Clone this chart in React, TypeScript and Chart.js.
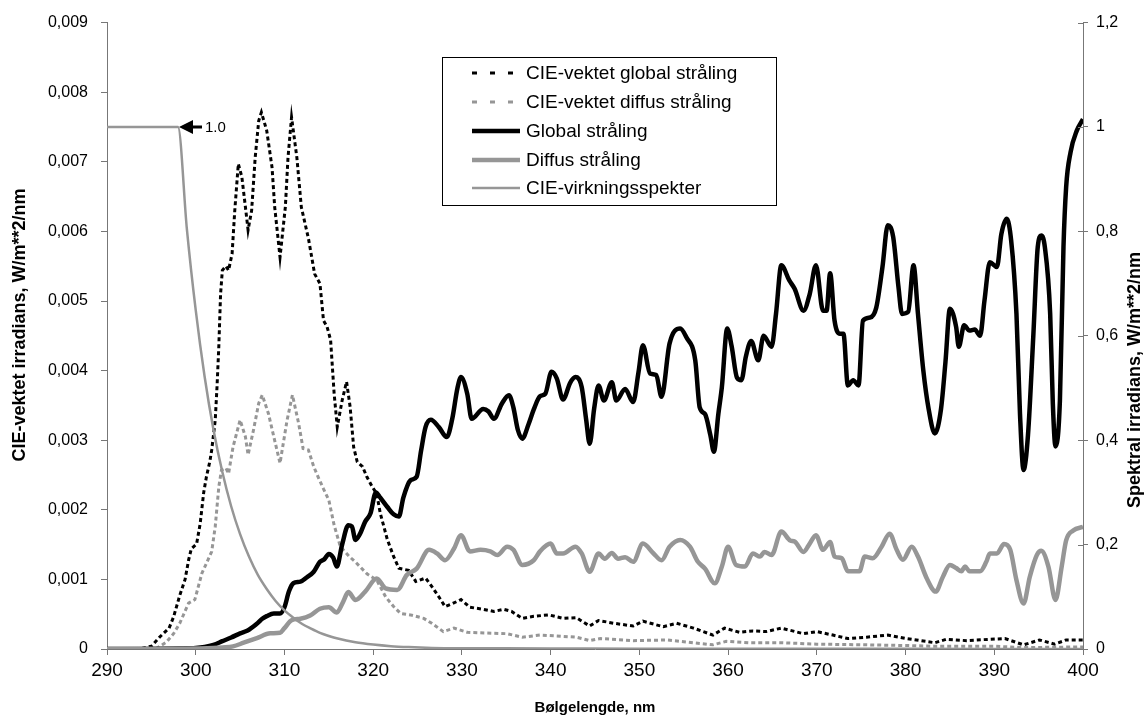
import React, { useEffect, useRef } from "react";
import { Chart, registerables } from "chart.js";

Chart.register(...registerables);

// ---------- data ----------
const xTicks = [290, 300, 310, 320, 330, 340, 350, 360, 370, 380, 390, 400];
const leftTicks = [0, 0.001, 0.002, 0.003, 0.004, 0.005, 0.006, 0.007, 0.008, 0.009];
const rightTicks = [0, 0.2, 0.4, 0.6, 0.8, 1, 1.2];

const seriesNames = [
  "CIE-vektet global stråling",
  "CIE-vektet diffus stråling",
  "Global stråling",
  "Diffus stråling",
  "CIE-virkningsspekter",
];

// Global stråling (right axis, W/m**2/nm)
const globalNm = [
  290, 294, 296, 298, 300, 301, 302, 303, 304, 305, 305.5, 306, 306.5, 307, 307.5, 308, 308.8, 309.5, 310,
  310.5, 311, 311.8, 312.5, 313.3, 314, 314.5, 315, 315.5, 315.9, 316.5, 317.2, 317.6, 318, 318.5, 319.1,
  319.7, 320.3, 320.8, 321.6, 322.3, 322.9, 323.4, 324.2, 324.9, 325.4, 325.9, 326.5, 327.4, 328.3, 328.9,
  329.5, 329.9, 330.6, 331.1, 332.4, 333, 333.6, 334.5, 335.3, 335.8, 336.3, 336.8, 337.5, 338.1, 338.8,
  339.4, 340.1, 340.7, 341.4, 342.2, 342.8, 343.5, 344, 344.4, 344.9, 345.4, 346, 346.9, 347.4, 348.4,
  349.3, 349.9, 350.4, 351.2, 351.9, 352.5, 353.4, 354.6, 355.3, 356.3, 356.8, 357.4, 358, 358.4, 358.9,
  359.3, 359.9, 360.4, 361, 361.5, 362, 362.6, 363.4, 364, 364.9, 365.4, 366, 366.9, 367.5, 368.5, 369.2,
  369.9, 370.7, 371.1, 371.5, 372, 372.6, 373, 373.5, 374.1, 374.7, 375.2, 376, 376.7, 377.4, 378, 378.6,
  379.2, 379.6, 380.3, 380.9, 381.4, 382, 382.6, 383.3, 384, 384.5, 385, 385.7, 386, 386.6, 387.2, 387.8,
  388.4, 388.9, 389.5, 390.3, 390.8, 391.4, 391.9, 392.5, 392.9, 393.3, 393.8, 394.4, 394.9, 395.3, 395.7,
  396.3, 396.6, 396.9, 397.4, 397.8, 398.1, 398.6, 399.3, 400,
];
const globalVal = [
  0, 0, 0.0003, 0.001, 0.002, 0.004, 0.008, 0.015, 0.022, 0.03, 0.033, 0.037, 0.043, 0.05, 0.058, 0.063,
  0.068, 0.068, 0.08, 0.11, 0.126, 0.129, 0.137, 0.148, 0.167, 0.172, 0.182, 0.175, 0.158, 0.2, 0.237, 0.235,
  0.209, 0.22, 0.244, 0.26, 0.3, 0.29, 0.272, 0.258, 0.254, 0.29, 0.323, 0.33, 0.38, 0.425, 0.439, 0.425,
  0.406, 0.44, 0.5, 0.521, 0.489, 0.441, 0.46, 0.455, 0.441, 0.47, 0.486, 0.463, 0.42, 0.403, 0.43, 0.459,
  0.484, 0.489, 0.531, 0.518, 0.478, 0.51, 0.521, 0.502, 0.44, 0.393, 0.46, 0.505, 0.476, 0.511, 0.476,
  0.498, 0.473, 0.53, 0.582, 0.528, 0.525, 0.483, 0.585, 0.614, 0.597, 0.553, 0.463, 0.45, 0.41, 0.378,
  0.45, 0.502, 0.614, 0.58, 0.52, 0.515, 0.56, 0.59, 0.553, 0.6, 0.579, 0.642, 0.735, 0.706, 0.69, 0.648,
  0.68, 0.735, 0.648, 0.648, 0.72, 0.629, 0.604, 0.604, 0.505, 0.515, 0.505, 0.629, 0.635, 0.654, 0.732,
  0.812, 0.79, 0.694, 0.642, 0.646, 0.735, 0.642, 0.534, 0.46, 0.413, 0.46, 0.55, 0.652, 0.617, 0.579, 0.62,
  0.61, 0.612, 0.6, 0.668, 0.741, 0.732, 0.795, 0.824, 0.783, 0.642, 0.45, 0.343, 0.41, 0.6, 0.77, 0.792,
  0.77, 0.642, 0.47, 0.388, 0.477, 0.77, 0.885, 0.952, 0.993, 1.015,
];

// Diffus stråling (right axis)
const diffusNm = [
  290, 298, 300, 302, 303, 304.2, 305.4, 306.9, 308.4, 309.5, 310, 310.8, 311.8, 312.9, 314, 315, 315.9,
  316.6, 317.2, 318, 319.1, 320.4, 321.4, 322.7, 323.8, 324.9, 326.3, 327.2, 328.1, 329.1, 329.9, 330.9,
  332.1, 333.2, 334, 335.1, 335.8, 336.8, 338.1, 338.8, 340, 340.7, 341.4, 342.8, 343.5, 344.4, 345.4,
  346.1, 346.9, 347.6, 348.4, 349.3, 350.4, 351.6, 352.5, 353.4, 354.6, 355.7, 356.6, 357.4, 358.5, 359.3,
  360, 360.9, 361.9, 362.8, 363.6, 364.1, 364.9, 366, 367, 367.5, 368.5, 369.2, 369.9, 370.7, 371.5, 372,
  372.8, 373.5, 374.8, 375.4, 376.3, 377.3, 378.2, 379, 379.7, 380.7, 381.4, 382.4, 383.4, 384.2, 385,
  385.7, 386.3, 386.7, 387.2, 388.4, 389.1, 389.5, 390.3, 391.1, 391.8, 392.5, 393.3, 394, 394.8, 395.3,
  396.1, 396.9, 397.6, 398.1, 398.9, 400,
];
const diffusVal = [
  0, 0.0003, 0.001, 0.002, 0.003, 0.005, 0.012, 0.021, 0.03, 0.031, 0.04, 0.055, 0.058, 0.064, 0.077, 0.08,
  0.07, 0.09, 0.109, 0.094, 0.11, 0.135, 0.116, 0.113, 0.142, 0.154, 0.19, 0.183, 0.17, 0.192, 0.218, 0.187,
  0.19, 0.187, 0.18, 0.196, 0.19, 0.161, 0.17, 0.187, 0.202, 0.183, 0.183, 0.196, 0.183, 0.148, 0.183,
  0.173, 0.184, 0.173, 0.176, 0.167, 0.202, 0.183, 0.17, 0.196, 0.209, 0.196, 0.167, 0.154, 0.126, 0.158,
  0.196, 0.161, 0.158, 0.183, 0.177, 0.186, 0.18, 0.225, 0.208, 0.206, 0.186, 0.202, 0.218, 0.19, 0.205,
  0.177, 0.174, 0.149, 0.149, 0.177, 0.174, 0.196, 0.221, 0.19, 0.171, 0.196, 0.177, 0.135, 0.11, 0.138,
  0.161, 0.155, 0.149, 0.158, 0.149, 0.149, 0.167, 0.183, 0.183, 0.201, 0.19, 0.132, 0.087, 0.138, 0.18,
  0.188, 0.158, 0.094, 0.158, 0.208, 0.227, 0.234,
];

// CIE-virkningsspekter (right axis, relative)
const cieNm = [
  290, 298, 299, 300, 301, 302, 303, 304, 305, 306, 307, 308, 309, 310, 311, 312, 313, 314, 315, 316, 318,
  320, 322, 324, 326, 328, 330, 340, 350, 360, 370, 380, 390, 400,
];
const cieVal = [
  1, 1, 0.805, 0.649, 0.522, 0.42, 0.339, 0.273, 0.22, 0.177, 0.142, 0.115, 0.092, 0.074, 0.06, 0.048,
  0.039, 0.031, 0.025, 0.02, 0.013, 0.0086, 0.0055, 0.0036, 0.0023, 0.0015, 0.0014, 0.001, 0.0007, 0.0005,
  0.00035, 0.00025, 0.00018, 0.00013,
];

// CIE-vektet global stråling (left axis)
const cwgNm = [
  290, 293, 294, 295, 296, 297, 297.5, 298.2, 298.8, 299.2, 299.5, 300.1, 300.5, 300.9, 301.2, 301.6, 301.8,
  302.2, 302.4, 302.6, 302.8, 303, 303.4, 303.7, 304.1, 304.4, 304.8, 305.2, 305.6, 305.9, 306.3, 306.7,
  307.1, 307.4, 308, 308.6, 308.9, 309.5, 310.1, 310.4, 310.8, 311.4, 311.9, 312.7, 313.4, 314, 314.4,
  314.8, 315.2, 315.6, 315.95, 316.5, 317, 317.4, 317.8, 318.2, 318.8, 319.3, 319.9, 320.4, 320.8, 321.6,
  322.3, 322.9, 324, 324.8, 325.9, 326.6, 327.4, 328.1, 328.9, 329.9, 330.9, 332.4, 333.6, 334.7, 335.6,
  336.8, 338.1, 339.8, 341.4, 342.9, 344.4, 345.4, 347.1, 349.3, 350.4, 352.7, 354.2, 356.1, 358.3, 359.6,
  361.3, 362.8, 364.3, 366, 368.5, 370, 371.8, 373.5, 375.6, 378, 380.1, 383.3, 384.6, 386.9, 389.5, 391.2,
  393.3, 395.1, 396.8, 398.1, 400,
];
const cwgVal = [
  0, 0, 0.00001, 0.00004, 0.00018, 0.0003, 0.00046, 0.00077, 0.001, 0.00128, 0.00144, 0.00151, 0.0018,
  0.00225, 0.00247, 0.0027, 0.00286, 0.00329, 0.00377, 0.00434, 0.0051, 0.00544, 0.0055, 0.00544, 0.00568,
  0.0063, 0.00697, 0.00678, 0.00635, 0.00602, 0.0063, 0.00706, 0.00759, 0.00771, 0.00745, 0.00692,
  0.00635, 0.00563, 0.00635, 0.00706, 0.00764, 0.00706, 0.00635, 0.0059, 0.00539, 0.00525, 0.00472,
  0.00463, 0.00444, 0.00367, 0.00319, 0.00357, 0.00384, 0.00348, 0.0029, 0.00269, 0.00262, 0.00247,
  0.00233, 0.00223, 0.00195, 0.00157, 0.00133, 0.00116, 0.00113, 0.00097, 0.00102, 0.0009, 0.00075,
  0.00061, 0.00065, 0.00071, 0.0006, 0.00057, 0.00054, 0.00057, 0.00054, 0.00044, 0.00047, 0.00049,
  0.00044, 0.00045, 0.00033, 0.00041, 0.00037, 0.00033, 0.0004, 0.00032, 0.00037, 0.0003, 0.0002, 0.0003,
  0.00024, 0.00026, 0.00025, 0.0003, 0.00022, 0.00025, 0.0002, 0.00015, 0.00017, 0.0002, 0.00015, 0.00009,
  0.00014, 0.00012, 0.00014, 0.00015, 0.00006, 0.00013, 0.00007, 0.00013, 0.00013,
];

// CIE-vektet diffus stråling (left axis)
const cwdNm = [
  290, 295, 295.6, 296.7, 297.5, 298.2, 299.2, 299.9, 300.7, 301.2, 301.8, 302.2, 302.6, 302.9, 303.4,
  303.7, 304.2, 305, 305.6, 305.9, 306.5, 307.1, 307.5, 308.2, 308.8, 309.5, 310.3, 310.9, 311.6, 312.1,
  312.7, 313.3, 313.8, 314.4, 315, 315.6, 316.3, 317.3, 318, 319.3, 320.4, 321.4, 322.3, 323.1, 324.2,
  325.7, 326.6, 327.9, 329.1, 330.6, 332.8, 335.1, 336.8, 338.8, 340.3, 342.9, 344.4, 345.6, 349.3, 353.1,
  356.8, 358.3, 359.8, 362.4, 366, 370, 375.6, 380, 383.1, 390, 393.3, 400,
];
const cwdVal = [
  0, 0, 0.00001, 0.0001, 0.00022, 0.00037, 0.00066, 0.00071, 0.00109, 0.00123, 0.0014, 0.00176, 0.00233,
  0.00257, 0.0026, 0.00252, 0.0029, 0.00329, 0.00305, 0.00279, 0.00314, 0.00353, 0.00365, 0.00338,
  0.00305, 0.00267, 0.00329, 0.00365, 0.00324, 0.00288, 0.00286, 0.00262, 0.00247, 0.0023, 0.00214,
  0.00178, 0.00147, 0.00133, 0.00125, 0.00108, 0.00099, 0.00075, 0.00061, 0.00051, 0.00049, 0.00044,
  0.00037, 0.00025, 0.0003, 0.00024, 0.00023, 0.00022, 0.00017, 0.0002, 0.00019, 0.00017, 0.00012, 0.00015,
  0.00012, 0.00013, 0.00008, 0.00006, 0.00011, 0.00009, 0.00009, 0.00007, 0.00006, 0.00005, 0.00004,
  0.00004, 0.00002, 0.00003,
];

// annotation at the CIE plateau corner
const annotNm = 298;
const annotValue = 1.0;
const annotText = "1.0";

const xTitle = "Bølgelengde, nm";
const leftTitle = "CIE-vektet irradians, W/m**2/nm";
const rightTitle = "Spektral irradians, W/m**2/nm";

// ---------- styles ----------
const FONT = '"Liberation Sans", Arial, Helvetica, sans-serif';
const BLACK = "#000000";
const GREY = "#969696";
const AXIS = "#777777";

const pts = (xs: number[], ys: number[]) => xs.map((x, i) => ({ x, y: ys[i] }));

const fmt = (v: number, d: number) => {
  const r = Number(Number(v).toFixed(d));
  return r === 0 ? "0" : String(r).replace(".", ",");
};

type LegendItem = { color: string; width: number; dash: number[] };
const legendStyles: LegendItem[] = [
  { color: BLACK, width: 3, dash: [5, 13] },
  { color: GREY, width: 3, dash: [5, 13] },
  { color: BLACK, width: 4.5, dash: [] },
  { color: GREY, width: 4.5, dash: [] },
  { color: GREY, width: 2.5, dash: [] },
];

const overlay = {
  id: "overlay",
  afterDraw(chart: any) {
    const { ctx, chartArea, scales } = chart;
    const xs = scales.x;
    const yR = scales.yR;
    ctx.save();

    // inward ticks on right axis
    ctx.strokeStyle = AXIS;
    ctx.lineWidth = 1;
    ctx.setLineDash([]);
    for (const v of rightTicks) {
      const y = Math.round(yR.getPixelForValue(v)) + 0.5;
      ctx.beginPath();
      ctx.moveTo(chartArea.right - 5, y);
      ctx.lineTo(chartArea.right, y);
      ctx.stroke();
    }

    // annotation arrow
    const ax = xs.getPixelForValue(annotNm);
    const ay = yR.getPixelForValue(annotValue);
    ctx.fillStyle = BLACK;
    ctx.strokeStyle = BLACK;
    ctx.beginPath();
    ctx.moveTo(ax + 1, ay);
    ctx.lineTo(ax + 15, ay - 7);
    ctx.lineTo(ax + 15, ay + 7);
    ctx.closePath();
    ctx.fill();
    ctx.lineWidth = 3;
    ctx.beginPath();
    ctx.moveTo(ax + 14, ay);
    ctx.lineTo(ax + 24, ay);
    ctx.stroke();
    ctx.font = `15px ${FONT}`;
    ctx.textBaseline = "middle";
    ctx.textAlign = "left";
    ctx.fillText(annotText, ax + 27, ay + 1);

    // legend box
    const lx = 442.5, ly = 57.5, lw = 334, lh = 148;
    ctx.fillStyle = "#ffffff";
    ctx.fillRect(lx, ly, lw, lh);
    ctx.lineWidth = 1;
    ctx.strokeStyle = BLACK;
    ctx.strokeRect(lx, ly, lw, lh);
    const rows = [73, 102, 131, 160, 188];
    ctx.font = `19px ${FONT}`;
    ctx.textAlign = "left";
    ctx.textBaseline = "middle";
    seriesNames.forEach((name, i) => {
      const st = legendStyles[i];
      ctx.strokeStyle = st.color;
      ctx.lineWidth = st.width;
      ctx.setLineDash(st.dash);
      ctx.lineCap = "butt";
      ctx.beginPath();
      ctx.moveTo(472, rows[i]);
      ctx.lineTo(520, rows[i]);
      ctx.stroke();
      ctx.setLineDash([]);
      ctx.fillStyle = BLACK;
      ctx.fillText(name, 526, rows[i] + 1);
    });

    // axis titles
    ctx.fillStyle = BLACK;
    ctx.font = `bold 18px ${FONT}`;
    ctx.textAlign = "center";
    ctx.textBaseline = "middle";
    ctx.save();
    ctx.translate(20, 325);
    ctx.rotate(-Math.PI / 2);
    ctx.fillText(leftTitle, 0, 0);
    ctx.restore();
    ctx.save();
    ctx.translate(1135, 380);
    ctx.rotate(-Math.PI / 2);
    ctx.fillText(rightTitle, 0, 0);
    ctx.restore();
    ctx.font = `bold 15px ${FONT}`;
    ctx.fillText(xTitle, (chartArea.left + chartArea.right) / 2, 708);

    ctx.restore();
  },
};

export default function App() {
  const ref = useRef<HTMLCanvasElement | null>(null);

  useEffect(() => {
    document.body.style.margin = "0";
    const canvas = ref.current;
    if (!canvas) return;
    const chart = new Chart(canvas, {
      type: "line",
      data: {
        datasets: [
          {
            label: seriesNames[0],
            data: pts(cwgNm, cwgVal),
            yAxisID: "y",
            borderColor: BLACK,
            borderWidth: 3,
            borderDash: [4, 3],
            pointRadius: 0,
            tension: 0,
            fill: false,
            order: 5,
          },
          {
            label: seriesNames[1],
            data: pts(cwdNm, cwdVal),
            yAxisID: "y",
            borderColor: GREY,
            borderWidth: 3,
            borderDash: [4, 3],
            pointRadius: 0,
            tension: 0,
            fill: false,
            order: 4,
          },
          {
            label: seriesNames[2],
            data: pts(globalNm, globalVal),
            yAxisID: "yR",
            borderColor: BLACK,
            borderWidth: 4.5,
            pointRadius: 0,
            cubicInterpolationMode: "monotone",
            fill: false,
            order: 3,
          },
          {
            label: seriesNames[3],
            data: pts(diffusNm, diffusVal),
            yAxisID: "yR",
            borderColor: GREY,
            borderWidth: 4.5,
            pointRadius: 0,
            cubicInterpolationMode: "monotone",
            fill: false,
            order: 2,
          },
          {
            label: seriesNames[4],
            data: pts(cieNm, cieVal),
            yAxisID: "yR",
            borderColor: GREY,
            borderWidth: 2.5,
            pointRadius: 0,
            cubicInterpolationMode: "monotone",
            fill: false,
            order: 1,
          },
        ] as any,
      },
      options: {
        responsive: false,
        animation: false,
        devicePixelRatio: 1,
        layout: { padding: { top: 22, left: 0, right: 0, bottom: 0 } },
        plugins: { legend: { display: false }, tooltip: { enabled: false } },
        scales: {
          x: {
            type: "linear",
            min: 290,
            max: 400,
            afterBuildTicks: (scale: any) => {
              scale.ticks = xTicks.map((v) => ({ value: v }));
            },
            afterFit: (scale: any) => {
              scale.height = 71;
            },
            ticks: {
              autoSkip: false,
              maxRotation: 0,
              color: BLACK,
              padding: 4,
              font: { size: 19, family: FONT },
              callback: (v: any) => String(v),
            },
            grid: { display: true, drawOnChartArea: false, drawTicks: true, tickLength: 6, color: AXIS, tickColor: AXIS },
            border: { display: true, color: AXIS, width: 1 },
          },
          y: {
            position: "left",
            min: 0,
            max: 0.009,
            afterBuildTicks: (scale: any) => {
              scale.ticks = leftTicks.map((v) => ({ value: v }));
            },
            afterFit: (scale: any) => {
              scale.width = 107;
            },
            ticks: {
              color: BLACK,
              padding: 13,
              font: { size: 16, family: FONT },
              callback: (v: any) => fmt(v, 3),
            },
            grid: { display: true, drawOnChartArea: false, drawTicks: true, tickLength: 6, color: AXIS, tickColor: AXIS },
            border: { display: true, color: AXIS, width: 1 },
          },
          yR: {
            position: "right",
            min: 0,
            max: 1.2,
            afterBuildTicks: (scale: any) => {
              scale.ticks = rightTicks.map((v) => ({ value: v }));
            },
            afterFit: (scale: any) => {
              scale.width = 64;
            },
            ticks: {
              color: BLACK,
              padding: 8,
              font: { size: 16, family: FONT },
              callback: (v: any) => fmt(v, 1),
            },
            grid: { display: true, drawOnChartArea: false, drawTicks: true, tickLength: 5, color: AXIS, tickColor: AXIS },
            border: { display: true, color: AXIS, width: 1 },
          },
        },
      } as any,
      plugins: [overlay],
    });
    return () => chart.destroy();
  }, []);

  return (
    <div style={{ width: 1147, height: 720, position: "relative", background: "#fff" }}>
      <canvas ref={ref} width={1147} height={720} style={{ display: "block" }} />
    </div>
  );
}
